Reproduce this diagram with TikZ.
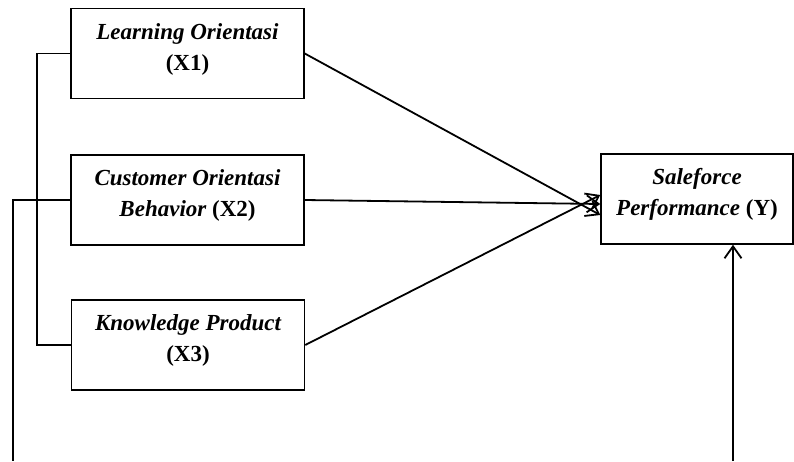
\documentclass[tikz,border=0pt]{standalone}
\usepackage{fontspec}
\setmainfont{Liberation Serif}
\usetikzlibrary{arrows.meta}
\tikzset{
  varbox/.style={draw, line width=1.5pt, minimum width=233pt, minimum height=90pt, inner sep=0pt},
  ybox/.style={draw, line width=1.5pt, minimum width=192pt, minimum height=90pt, inner sep=0pt},
  vartext/.style={align=center, font=\fontsize{23}{31}\selectfont\bfseries, inner sep=0pt},
  conn/.style={line width=1.5pt},
  arr/.style={line width=1.8pt, -{Straight Barb[length=12pt,width=17pt,line width=1.8pt]}}
}
\begin{document}
\begin{tikzpicture}[x=1pt,y=-1pt]
\useasboundingbox (0,0) rectangle (794,461);
\node[varbox] (x1) at (187.5,53.5) {};
\node[varbox] (x2) at (187.5,200) {};
\node[varbox] (x3) at (188,345) {};
\node[ybox] (y) at (697,199) {};
\node[vartext] (x1t) at (187.5,49) {\itshape Learning Orientasi\\(X1)};
\node[vartext] (x2t) at (187.5,195.5) {\itshape Customer Orientasi\\{\itshape Behavior} (X2)};
\node[vartext] (x3t) at (188,340) {\itshape Knowledge Product\\(X3)};
\node[vartext] (yt) at (697,194.5) {\itshape Saleforce\\{\itshape Performance} (Y)};
\coordinate (l1) at (37,0);
\coordinate (l2) at (13,461);
\coordinate (yb) at (733,461);
\draw[conn] (x1.west) -- (x1.west -| l1) |- (x3.west);
\draw[conn] (x2.west) -- (x2.west -| l2) -- (l2);
\draw[arr] (yb) -- (yb |- y.south);
\draw[arr] (x1.east) -- ([yshift=-16pt]y.west);
\draw[arr] (x2.east) -- ([yshift=-5pt]y.west);
\draw[arr] (x3.east) -- ([yshift=4pt]y.west);
\end{tikzpicture}
\end{document}
